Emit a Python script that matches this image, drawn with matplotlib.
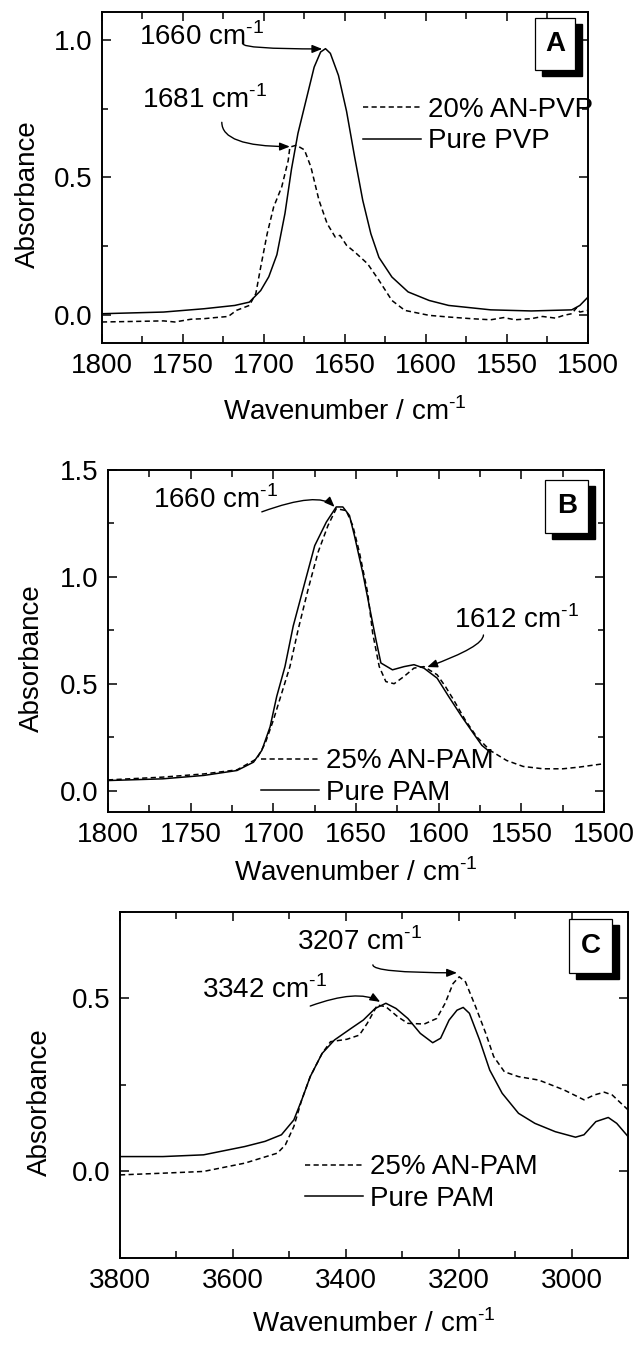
import matplotlib
matplotlib.use("Agg")
import matplotlib.pyplot as plt
import matplotlib.transforms as mtransforms
from matplotlib.patches import Rectangle
from matplotlib.ticker import MultipleLocator

plt.rcParams['font.family'] = ['Liberation Sans', 'DejaVu Sans']
plt.rcParams['mathtext.fontset'] = 'custom'
plt.rcParams['mathtext.rm'] = 'Liberation Sans'

# ---- panel A: PVP, 1800-1500 cm-1
a_pure_x = [1800, 1762, 1737, 1718, 1709, 1702, 1697, 1692, 1687, 1683, 1679, 1674,
            1669, 1665, 1662, 1659, 1654, 1649, 1644, 1639, 1634, 1629, 1621, 1611,
            1598, 1586, 1560, 1535, 1510, 1505, 1500]
a_pure_y = [0.006, 0.012, 0.024, 0.036, 0.048, 0.09, 0.14, 0.22, 0.37, 0.53, 0.66, 0.78,
            0.90, 0.955, 0.967, 0.95, 0.87, 0.74, 0.574, 0.417, 0.296, 0.21, 0.139, 0.085,
            0.054, 0.036, 0.02, 0.016, 0.02, 0.036, 0.066]
a_an_x = [1800, 1780, 1762, 1755, 1745, 1737, 1730, 1722, 1717, 1709, 1705, 1702, 1698,
          1694, 1689, 1685, 1684, 1680, 1675, 1671, 1666, 1661, 1656, 1653, 1649, 1644,
          1636, 1629, 1621, 1613, 1598, 1586, 1572, 1560, 1552, 1545, 1535, 1528, 1520,
          1515, 1510, 1507, 1505, 1500]
a_an_y = [-0.024, -0.022, -0.02, -0.024, -0.014, -0.012, -0.008, -0.004, 0.018, 0.036,
          0.079, 0.175, 0.296, 0.393, 0.466, 0.562, 0.61, 0.617, 0.60, 0.538, 0.417,
          0.333, 0.284, 0.29, 0.254, 0.23, 0.187, 0.127, 0.054, 0.018, 0.0, -0.006,
          -0.012, -0.016, -0.008, -0.016, -0.012, -0.004, -0.010, 0.0, 0.006, 0.028,
          0.012, 0.018]

# ---- panel B: PAM, 1800-1500 cm-1
b_pure_x = [1800, 1767, 1742, 1722, 1712, 1707, 1702, 1698, 1693, 1688, 1681, 1675,
            1668, 1662, 1658, 1654, 1651, 1646, 1642, 1638, 1635, 1628, 1621, 1615,
            1609, 1601, 1594, 1586, 1579, 1574, 1569]
b_pure_y = [0.047, 0.055, 0.071, 0.094, 0.133, 0.188, 0.298, 0.44, 0.58, 0.77, 0.973,
            1.146, 1.256, 1.327, 1.327, 1.287, 1.193, 1.02, 0.863, 0.706, 0.597, 0.565,
            0.58, 0.589, 0.573, 0.526, 0.44, 0.345, 0.267, 0.212, 0.18]
b_an_x = [1800, 1767, 1742, 1722, 1710, 1705, 1700, 1695, 1690, 1685, 1679, 1673, 1667,
          1662, 1656, 1652, 1648, 1643, 1640, 1636, 1632, 1627, 1621, 1615, 1609, 1601,
          1596, 1591, 1584, 1577, 1569, 1559, 1549, 1537, 1525, 1515, 1500]
b_an_y = [0.05, 0.063, 0.078, 0.097, 0.149, 0.22, 0.33, 0.455, 0.58, 0.754, 0.942,
          1.115, 1.24, 1.319, 1.31, 1.24, 1.115, 0.926, 0.738, 0.58, 0.51, 0.50, 0.534,
          0.573, 0.58, 0.542, 0.487, 0.424, 0.33, 0.251, 0.188, 0.141, 0.113, 0.102,
          0.102, 0.11, 0.126]

# ---- panel C: PAM, 3800-2900 cm-1
c_pure_x = [3800, 3724, 3652, 3579, 3543, 3514, 3492, 3478, 3463, 3442, 3420, 3391,
            3369, 3348, 3329, 3311, 3290, 3268, 3246, 3232, 3217, 3203, 3192, 3181,
            3163, 3145, 3123, 3094, 3065, 3029, 2993, 2978, 2957, 2935, 2920, 2900]
c_pure_y = [0.043, 0.043, 0.048, 0.072, 0.087, 0.106, 0.149, 0.207, 0.274, 0.341, 0.38,
            0.413, 0.4375, 0.471, 0.486, 0.471, 0.442, 0.399, 0.372, 0.385, 0.4375,
            0.466, 0.474, 0.457, 0.38, 0.293, 0.226, 0.168, 0.139, 0.115, 0.099, 0.106,
            0.144, 0.156, 0.139, 0.101]
c_an_x = [3800, 3724, 3652, 3579, 3521, 3507, 3492, 3478, 3463, 3442, 3427, 3398, 3376,
          3362, 3344, 3329, 3308, 3290, 3261, 3239, 3224, 3210, 3199, 3188, 3170, 3152,
          3138, 3119, 3094, 3058, 3014, 2978, 2960, 2942, 2928, 2900]
c_an_y = [-0.01, -0.005, 0.0, 0.024, 0.053, 0.077, 0.13, 0.207, 0.274, 0.341, 0.375,
          0.382, 0.394, 0.428, 0.481, 0.476, 0.447, 0.428, 0.426, 0.442, 0.486, 0.543,
          0.5625, 0.548, 0.476, 0.399, 0.332, 0.288, 0.274, 0.264, 0.236, 0.207, 0.221,
          0.229, 0.221, 0.178]

CM = ' cm$^{\\mathregular{\u20101}}$'
FS = 20

fig = plt.figure(figsize=(6.37, 13.47), dpi=100)


def make_axes(rect, xlim, ylim, xmaj, xmin, ymaj, ymin, xlab_y, ylab_x):
    ax = fig.add_axes(rect)
    ax.set_xlim(*xlim)
    ax.set_ylim(*ylim)
    ax.xaxis.set_major_locator(MultipleLocator(xmaj))
    ax.xaxis.set_minor_locator(MultipleLocator(xmin))
    ax.yaxis.set_major_locator(MultipleLocator(ymaj))
    ax.yaxis.set_minor_locator(MultipleLocator(ymin))
    ax.tick_params(which='both', direction='in', top=True, right=True,
                   labelsize=FS, width=1.1, pad=7)
    ax.tick_params(which='major', length=6.5)
    ax.tick_params(which='minor', length=4)
    ax.tick_params(axis='x', which='minor', length=5)
    for s in ax.spines.values():
        s.set_linewidth(1.4)
    ax.set_xlabel('Wavenumber /' + CM, fontsize=FS)
    ax.set_ylabel('Absorbance', fontsize=FS)
    ax.xaxis.set_label_coords(0.5, xlab_y)
    ax.xaxis.label.set_va('center')
    ax.yaxis.set_label_coords(ylab_x, 0.45)
    ax.yaxis.label.set_va('center')
    return ax


def panel_tag(ax, letter, x0, y0, x1, y1):
    shadow = mtransforms.offset_copy(ax.transAxes, fig=fig, x=7, y=-6, units='dots')
    ax.add_patch(Rectangle((x0, y0), x1 - x0, y1 - y0, transform=shadow,
                           facecolor='black', edgecolor='black', clip_on=False, zorder=5))
    ax.add_patch(Rectangle((x0, y0), x1 - x0, y1 - y0, transform=ax.transAxes,
                           facecolor='white', edgecolor='black', lw=0.9,
                           clip_on=False, zorder=6))
    ax.text((x0 + x1) / 2, (y0 + y1) / 2, letter, transform=ax.transAxes,
            ha='center', va='center', fontsize=FS, fontweight='bold', zorder=7)


def mark(ax, label, txt_xy, start, tip, style):
    ax.text(txt_xy[0], txt_xy[1], label, fontsize=FS, ha='left', va='center')
    ax.annotate('', xy=tip, xytext=start,
                arrowprops=dict(arrowstyle='-|>,head_length=0.5,head_width=0.2',
                                color='black', lw=1.0, shrinkA=0, shrinkB=0,
                                connectionstyle=style, mutation_scale=12))


def spectra(ax, x1, y1, lab1, x2, y2, lab2, anchor):
    d, = ax.plot(x1, y1, color='black', lw=1.1, ls=(0, (3.4, 2.2)))
    s, = ax.plot(x2, y2, color='black', lw=1.1)
    ax.legend([d, s], [lab1, lab2], loc='upper left', bbox_to_anchor=anchor,
              frameon=False, fontsize=FS, handlelength=2.1, handletextpad=0.25,
              labelspacing=0.2, borderpad=0, borderaxespad=0)


# Panel A
axA = make_axes([0.160, 0.7454, 0.763, 0.2457], (1800, 1500), (-0.1, 1.1),
                50, 25, 0.5, 0.25, -0.208, -0.152)
spectra(axA, a_an_x, a_an_y, '20% AN-PVP', a_pure_x, a_pure_y, 'Pure PVP', (0.537, 0.744))
mark(axA, '1660' + CM, (1777, 1.009), (1713, 0.985), (1664, 0.966), 'angle3,angleA=90,angleB=0')
mark(axA, '1681' + CM, (1775, 0.781), (1726, 0.70), (1684, 0.612), 'angle3,angleA=90,angleB=0')
panel_tag(axA, 'A', 0.891, 0.825, 0.973, 0.982)

# Panel B
axB = make_axes([0.1695, 0.3972, 0.779, 0.2539], (1800, 1500), (-0.1, 1.5),
                50, 25, 0.5, 0.25, -0.178, -0.153)
spectra(axB, b_an_x, b_an_y, '25% AN-PAM', b_pure_x, b_pure_y, 'Pure PAM', (0.308, 0.186))
mark(axB, '1660' + CM, (1773, 1.36), (1707, 1.304), (1663, 1.327), 'angle3,angleA=20,angleB=135')
mark(axB, '1612' + CM, (1591, 0.798), (1573, 0.728), (1607, 0.578), 'angle3,angleA=90,angleB=20')
panel_tag(axB, 'B', 0.881, 0.816, 0.968, 0.971)

# Panel C
axC = make_axes([0.1884, 0.0661, 0.7975, 0.2569], (3800, 2900), (-0.25, 0.75),
                200, 100, 0.5, 0.25, -0.191, -0.157)
spectra(axC, c_an_x, c_an_y, '25% AN-PAM', c_pure_x, c_pure_y, 'Pure PAM', (0.364, 0.299))
mark(axC, '3342' + CM, (3655, 0.525), (3463, 0.478), (3339, 0.49), 'angle3,angleA=20,angleB=150')
mark(axC, '3207' + CM, (3486, 0.663), (3352, 0.597), (3203, 0.574), 'angle3,angleA=90,angleB=0')
panel_tag(axC, 'C', 0.884, 0.824, 0.969, 0.980)

fig.savefig('out.png', dpi=100)
